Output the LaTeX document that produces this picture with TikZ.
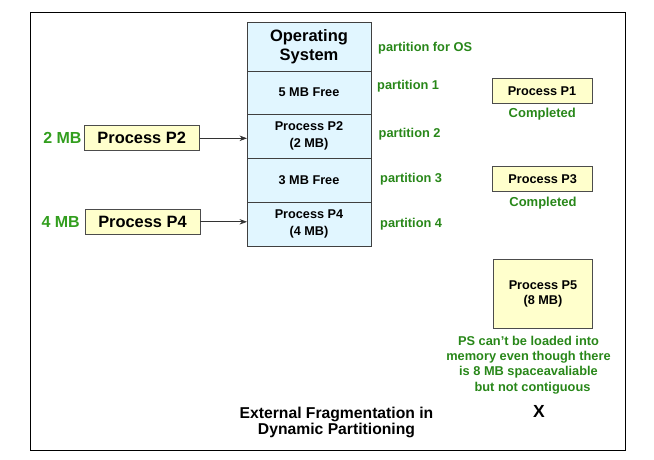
\documentclass[tikz,border=0pt]{standalone}
\usepackage{fontspec}
\setmainfont{Liberation Sans}
\usetikzlibrary{positioning,arrows.meta}
\definecolor{membleu}{RGB}{225,246,255}
\definecolor{procjaune}{RGB}{255,255,204}
\definecolor{vertfonce}{RGB}{40,135,25}
\definecolor{vertclair}{RGB}{50,158,30}

\begin{document}
\begin{tikzpicture}[x=1pt,y=-1pt,
   cellule/.style={draw=black!75,line width=0.9pt,fill=membleu,minimum width=124pt,
      inner sep=0pt,outer sep=0pt,align=center,font=\bfseries\fontsize{12.7}{17}\selectfont},
   procbox/.style={draw=black!70,line width=0.9pt,fill=procjaune,inner sep=0pt,align=center,
      font=\bfseries\fontsize{12.7}{16}\selectfont},
   etiquette/.style={text=vertfonce,inner sep=0pt,font=\bfseries\fontsize{12.8}{15.3}\selectfont},
   fleche/.style={-{Stealth[length=7.5pt,width=5.5pt]},line width=0.7pt,draw=black!80}]
   \useasboundingbox (0,0) rectangle (654,459);
   \draw[line width=1pt] (30,12) rectangle (625,450);

   % la memoire et ses partitions
   \node[cellule,minimum height=49pt,anchor=north,font=\bfseries\fontsize{16.5}{19}\selectfont] (os) at (309,22) {Operating\\System};
   \node[cellule,minimum height=43pt,below=0pt of os] (part1) {5 MB Free};
   \node[cellule,minimum height=44pt,below=0pt of part1] (part2) {Process P2\\(2 MB)};
   \node[cellule,minimum height=44pt,below=0pt of part2] (part3) {3 MB Free};
   \node[cellule,minimum height=44pt,below=0pt of part3] (part4) {Process P4\\(4 MB)};

   \node[etiquette,anchor=west] (lblos) at (378,47.7) {partition for OS};
   \node[etiquette,anchor=west] (lbl1) at (377,86) {partition 1};
   \node[etiquette,anchor=west] (lbl2) at (378.5,134) {partition 2};
   \node[etiquette,anchor=west] (lbl3) at (380,179) {partition 3};
   \node[etiquette,anchor=west] (lbl4) at (380,224) {partition 4};

   % processus a charger
   \node[procbox,minimum width=115pt,minimum height=25pt,font=\bfseries\fontsize{16.4}{18}\selectfont] (p2) at (141.7,138.3) {Process P2};
   \node[procbox,minimum width=115pt,minimum height=25pt,font=\bfseries\fontsize{16.4}{18}\selectfont] (p4) at (142.5,221.8) {Process P4};
   \node[text=vertclair,inner sep=0pt,anchor=east,font=\bfseries\fontsize{16}{18}\selectfont] (t2) at (81.7,137.5) {2 MB};
   \node[text=vertclair,inner sep=0pt,anchor=east,font=\bfseries\fontsize{16}{18}\selectfont] (t4) at (80,222) {4 MB};
   \draw[fleche] (p2.east) -- (p2.east -| part2.west);
   \draw[fleche] (p4.east) -- (p4.east -| part4.west);

   % processus termines
   \node[procbox,minimum width=100pt,minimum height=25pt] (p1) at (542,90.7) {Process P1};
   \node[etiquette,font=\bfseries\fontsize{13}{15}\selectfont] (c1) at (542.3,114.3) {Completed};
   \node[procbox,minimum width=100pt,minimum height=24.5pt] (p3) at (542.7,178.8) {Process P3};
   \node[etiquette,font=\bfseries\fontsize{13}{15}\selectfont] (c3) at (543,202.7) {Completed};

   \node[procbox,minimum width=99.5pt,minimum height=69pt,font=\bfseries\fontsize{12.7}{15.7}\selectfont] (p5) at (543,293.8) {Process P5\\(8 MB)};
   \node[etiquette,align=center] (msg) at (528.5,365) {PS can’t be loaded into\\memory even though there\\is 8 MB spaceavaliable\\\hspace*{8pt}but not contiguous};
   \node[inner sep=0pt,font=\bfseries\fontsize{17.5}{18}\selectfont] (croix) at (539,411) {X};

   \node[inner sep=0pt,align=center,font=\bfseries\fontsize{15.7}{16.7}\selectfont] (titre) at (336.5,422.4) {External Fragmentation in\\Dynamic Partitioning};
\end{tikzpicture}
\end{document}
